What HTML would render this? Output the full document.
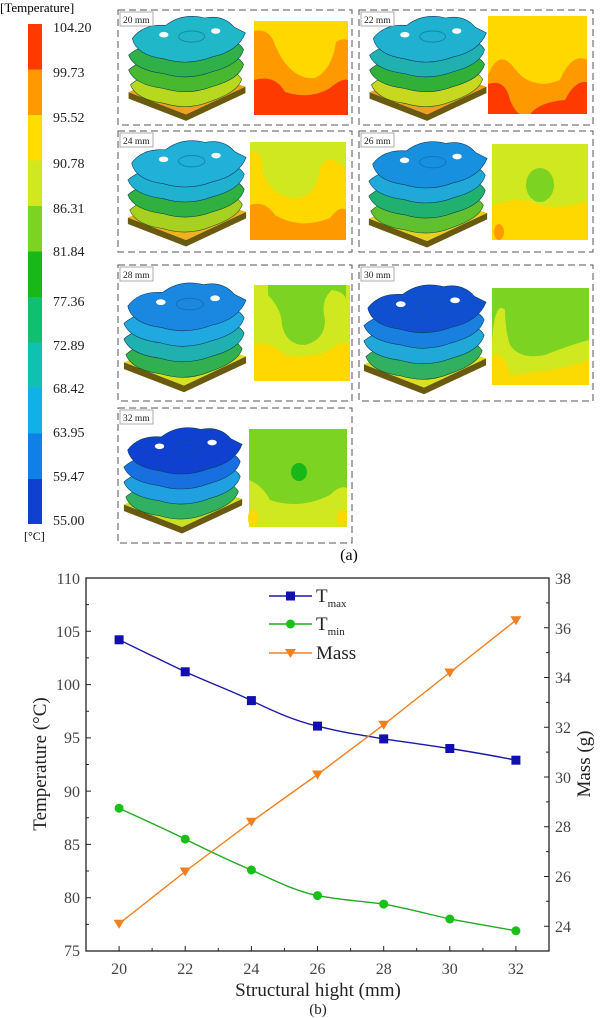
<!DOCTYPE html>
<html><head><meta charset="utf-8"><style>
html,body{margin:0;padding:0;background:#fff}
svg{display:block}
text{font-family:"Liberation Serif",serif}
</style></head><body>
<svg width="600" height="1018" viewBox="0 0 600 1018" xmlns="http://www.w3.org/2000/svg">
<defs>
<symbol id="obj" viewBox="0 0 130 110" overflow="visible">
  <path d="M2 80 L64 104 L128 74 L128 81 L64 111 L2 87 Z" fill="#6a5a10"/>
  <path d="M2 80 L64 104 L128 74 L66 54 Z" fill="var(--b)"/>
  <path d="M4 72 Q20 58 40 62 Q65 50 90 56 Q115 52 124 66 Q120 80 90 90 Q66 100 40 92 Q10 88 4 72Z" fill="var(--l4)" stroke="#1a4a20" stroke-width=".6"/>
  <path d="M2 56 Q18 42 40 46 Q64 34 92 40 Q118 36 126 50 Q122 66 92 74 Q66 84 40 76 Q8 72 2 56Z" fill="var(--l3)" stroke="#0a3a40" stroke-width=".6"/>
  <path d="M2 40 Q18 26 40 30 Q64 18 92 24 Q118 20 126 34 Q122 50 92 58 Q66 68 40 60 Q8 56 2 40Z" fill="var(--l2)" stroke="#0a3a60" stroke-width=".6"/>
  <path d="M6 22 Q18 6 42 8 Q60 -6 84 0 Q104 -4 116 10 L128 16 Q120 36 92 42 Q66 52 40 44 Q10 40 6 22Z" fill="var(--l1)" stroke="#0a3a60" stroke-width=".6"/>
  <ellipse cx="70" cy="20" rx="14" ry="6" fill="none" stroke="#0a5a90" stroke-width="1" opacity=".5"/>
  <ellipse cx="40" cy="18" rx="5" ry="3" fill="#fff"/>
  <ellipse cx="96" cy="14" rx="5" ry="3" fill="#fff"/>
</symbol>
</defs>

<!-- colorbar -->
<text x="0" y="12" font-size="13">[Temperature]</text>
<g>
<rect x="28" y="24" width="14" height="45.5" fill="#ff3a00"/>
<rect x="28" y="69.5" width="14" height="45.5" fill="#ff9900"/>
<rect x="28" y="115" width="14" height="45.5" fill="#ffdd00"/>
<rect x="28" y="160.5" width="14" height="45.5" fill="#d0e820"/>
<rect x="28" y="206" width="14" height="45.5" fill="#7dd321"/>
<rect x="28" y="251.5" width="14" height="45.5" fill="#18b818"/>
<rect x="28" y="297" width="14" height="45.5" fill="#10c070"/>
<rect x="28" y="342.5" width="14" height="45.5" fill="#10c0b0"/>
<rect x="28" y="388" width="14" height="45.5" fill="#10b0e8"/>
<rect x="28" y="433.5" width="14" height="45.5" fill="#1080e8"/>
<rect x="28" y="479" width="14" height="45" fill="#1040d0"/>
</g>
<g font-size="14" fill="#222">
<text x="53" y="32">104.20</text>
<text x="53" y="77">99.73</text>
<text x="53" y="122">95.52</text>
<text x="53" y="168">90.78</text>
<text x="53" y="213">86.31</text>
<text x="53" y="256">81.84</text>
<text x="53" y="306">77.36</text>
<text x="53" y="350">72.89</text>
<text x="53" y="393">68.42</text>
<text x="53" y="437">63.95</text>
<text x="53" y="481">59.47</text>
<text x="53" y="525">55.00</text>
</g>
<text x="24" y="540" font-size="12" font-family="Liberation Sans">[°C]</text>

<!-- panels -->
<g fill="none" stroke="#555" stroke-width="1" stroke-dasharray="7,4">
<rect x="118" y="10" width="234" height="115"/>
<rect x="359" y="10" width="234" height="115"/>
<rect x="118" y="131" width="234" height="121"/>
<rect x="359" y="131" width="234" height="121"/>
<rect x="118" y="265" width="234" height="136"/>
<rect x="359" y="265" width="234" height="136"/>
<rect x="118" y="408" width="234" height="135"/>
</g>

<use href="#obj" x="126" y="18" width="122" height="102" style="--l1:#20b8c8;--l2:#30b048;--l3:#48b830;--l4:#b8d820;--b:#f0a020"/>
<rect x="254" y="21" width="94" height="94" fill="#ffd800"/>
<path d="M254 31 Q270 28 275 45 Q290 80 315 78 Q332 70 336 42 Q342 38 348 40 L348 115 L254 115Z" fill="#ff9900"/>
<path d="M254 80 Q275 74 285 92 Q310 100 330 88 Q342 78 348 80 L348 115 L254 115Z" fill="#ff3a00"/>

<use href="#obj" x="367" y="18" width="122" height="102" style="--l1:#20b0d0;--l2:#20b0b0;--l3:#30b038;--l4:#c8d820;--b:#f0a020"/>
<rect x="488" y="16" width="99" height="98" fill="#ffd800"/>
<path d="M488 75 Q498 50 512 65 Q530 92 560 80 Q572 52 587 60 L587 114 L488 114Z" fill="#ff9900"/>
<path d="M488 84 Q505 78 510 100 Q515 112 520 114 L488 114Z M530 114 Q540 102 565 100 Q575 80 587 82 L587 114Z" fill="#ff3a00"/>

<use href="#obj" x="126" y="142" width="122" height="104" style="--l1:#20b0d8;--l2:#20b0d0;--l3:#30b040;--l4:#a8d020;--b:#f0b020"/>
<rect x="250" y="142" width="96" height="98" fill="#ffd800"/>
<path d="M250 142 L346 142 L346 170 Q330 150 320 168 Q316 200 290 198 Q262 190 262 160 Q258 150 250 152Z" fill="#d0e820"/>
<path d="M250 205 Q265 200 275 215 Q300 230 330 218 Q340 205 346 210 L346 240 L250 240Z" fill="#ff9900"/>

<use href="#obj" x="367" y="143" width="122" height="104" style="--l1:#1890e0;--l2:#20a8d8;--l3:#20b070;--l4:#60c030;--b:#e8d020"/>
<rect x="492" y="144" width="96" height="96" fill="#d0e820"/>
<ellipse cx="540" cy="185" rx="14" ry="17" fill="#7dd321"/>
<path d="M492 205 Q520 195 540 205 Q565 210 588 200 L588 240 L492 240Z" fill="#ffd800"/>
<ellipse cx="499" cy="232" rx="5" ry="8" fill="#ff9900"/>

<use href="#obj" x="122" y="282" width="126" height="112" style="--l1:#1a88e0;--l2:#20a8e0;--l3:#20b0b0;--l4:#30b050;--b:#d8e020"/>
<rect x="254" y="285" width="96" height="96" fill="#d0e820"/>
<path d="M268 295 Q282 310 282 325 Q286 345 305 345 Q325 340 325 320 Q320 300 332 290 Q345 292 346 300 L346 285 L268 285Z" fill="#7dd321"/>
<path d="M254 345 Q270 340 285 355 Q310 360 330 350 Q340 340 350 345 L350 381 L254 381Z" fill="#ffd800"/>

<use href="#obj" x="362" y="283" width="126" height="114" style="--l1:#1050d0;--l2:#1a80e0;--l3:#20a8d8;--l4:#30b060;--b:#d8e020"/>
<rect x="492" y="288" width="97" height="97" fill="#7dd321"/>
<path d="M492 340 Q495 300 505 310 Q505 330 510 345 Q520 360 545 355 Q570 345 589 340 L589 385 L492 385Z" fill="#d0e820"/>
<path d="M492 355 Q505 350 510 375 L535 372 Q560 370 589 360 L589 385 L492 385Z" fill="#ffd800" opacity=".9"/>

<use href="#obj" x="122" y="424" width="122" height="114" style="--l1:#1040d0;--l2:#1870e0;--l3:#20a0e0;--l4:#30b060;--b:#c8e020"/>
<rect x="249" y="429" width="98" height="98" fill="#7dd321"/>
<ellipse cx="299" cy="472" rx="8" ry="9" fill="#18b818"/>
<path d="M249 480 Q262 485 270 500 Q300 510 330 495 Q340 485 347 488 L347 527 L249 527Z" fill="#d0e820"/>
<ellipse cx="253" cy="518" rx="5" ry="9" fill="#ffd800"/>
<ellipse cx="342" cy="518" rx="5" ry="9" fill="#ffd800"/>

<g font-size="9.5" fill="#222">
<rect x="120" y="12" width="33" height="14" fill="#fff" stroke="#999" stroke-width=".8"/><text x="123" y="23">20 mm</text>
<rect x="361" y="12" width="33" height="14" fill="#fff" stroke="#999" stroke-width=".8"/><text x="364" y="23">22 mm</text>
<rect x="120" y="133" width="33" height="14" fill="#fff" stroke="#999" stroke-width=".8"/><text x="123" y="144">24 mm</text>
<rect x="361" y="133" width="33" height="14" fill="#fff" stroke="#999" stroke-width=".8"/><text x="364" y="144">26 mm</text>
<rect x="120" y="267" width="33" height="14" fill="#fff" stroke="#999" stroke-width=".8"/><text x="123" y="278">28 mm</text>
<rect x="361" y="267" width="33" height="14" fill="#fff" stroke="#999" stroke-width=".8"/><text x="364" y="278">30 mm</text>
<rect x="120" y="410" width="33" height="14" fill="#fff" stroke="#999" stroke-width=".8"/><text x="123" y="421">32 mm</text>
</g>
<text x="349" y="560" font-size="16" text-anchor="middle">(a)</text>

<!-- chart -->
<rect x="86" y="578" width="463" height="373" fill="none" stroke="#222" stroke-width="1.3"/>
<g stroke="#222" stroke-width="1">
<path d="M86 631.3h5M86 684.6h5M86 737.9h5M86 791.1h5M86 844.4h5M86 897.7h5"/>
<path d="M86 604.6h3M86 657.9h3M86 711.2h3M86 764.5h3M86 817.8h3M86 871.0h3M86 924.4h3"/>
<path d="M549 926.2h-5M549 876.5h-5M549 826.7h-5M549 777.0h-5M549 727.3h-5M549 677.5h-5M549 627.7h-5"/>
<path d="M549 901.3h-3M549 851.6h-3M549 801.9h-3M549 752.1h-3M549 702.4h-3M549 652.6h-3M549 602.9h-3"/>
<path d="M119.1 951v-5M185.2 951v-5M251.4 951v-5M317.5 951v-5M383.7 951v-5M449.8 951v-5M515.9 951v-5"/>
<path d="M152.1 951v-3M218.3 951v-3M284.4 951v-3M350.6 951v-3M416.7 951v-3M482.9 951v-3"/>
</g>
<g font-size="16" fill="#444" text-anchor="end">
<text x="80" y="584">110</text><text x="80" y="637">105</text><text x="80" y="690">100</text>
<text x="80" y="743">95</text><text x="80" y="797">90</text><text x="80" y="850">85</text>
<text x="80" y="903">80</text><text x="80" y="956">75</text>
</g>
<g font-size="16" fill="#444">
<text x="555" y="584">38</text><text x="555" y="634">36</text><text x="555" y="683">34</text>
<text x="555" y="733">32</text><text x="555" y="783">30</text><text x="555" y="832">28</text>
<text x="555" y="882">26</text><text x="555" y="932">24</text>
</g>
<g font-size="16" fill="#444" text-anchor="middle">
<text x="119.1" y="974">20</text><text x="185.2" y="974">22</text><text x="251.4" y="974">24</text>
<text x="317.5" y="974">26</text><text x="383.7" y="974">28</text><text x="449.8" y="974">30</text>
<text x="515.9" y="974">32</text>
</g>
<text x="318" y="996" font-size="19" text-anchor="middle" fill="#222">Structural hight (mm)</text>
<text x="318" y="1014" font-size="15" text-anchor="middle" fill="#222">(b)</text>
<text transform="translate(46 764) rotate(-90)" font-size="19" text-anchor="middle" fill="#222">Temperature (°C)</text>
<text transform="translate(590 764) rotate(-90)" font-size="19" text-anchor="middle" fill="#222">Mass (g)</text>

<path d="M119.1 639.8 C140 650 165 662 185.2 671.8 C207 682 230 690 251.4 700.6 C273 711 295 721 317.5 726.1 C340 732 360 735 383.7 738.9 C405 742 428 745 449.8 748.5 C472 752 495 756 515.9 760.2" fill="none" stroke="#1a1aa8" stroke-width="1.4"/>
<g fill="#1010b0">
<rect x="114.6" y="635.3" width="9" height="9"/><rect x="180.7" y="667.3" width="9" height="9"/>
<rect x="246.9" y="696.1" width="9" height="9"/><rect x="313" y="721.6" width="9" height="9"/>
<rect x="379.2" y="734.4" width="9" height="9"/><rect x="445.3" y="744" width="9" height="9"/>
<rect x="511.4" y="755.7" width="9" height="9"/>
</g>
<path d="M119.1 808.2 C140 818 165 829 185.2 839.1 C207 850 230 861 251.4 870 C273 880 295 891 317.5 895.6 C340 900 360 901 383.7 904.1 C405 908 428 914 449.8 919 C472 923 495 927 515.9 930.8" fill="none" stroke="#22aa22" stroke-width="1.4"/>
<g fill="#18c018">
<circle cx="119.1" cy="808.2" r="4.5"/><circle cx="185.2" cy="839.1" r="4.5"/><circle cx="251.4" cy="870" r="4.5"/>
<circle cx="317.5" cy="895.6" r="4.5"/><circle cx="383.7" cy="904.1" r="4.5"/><circle cx="449.8" cy="919" r="4.5"/>
<circle cx="515.9" cy="930.8" r="4.5"/>
</g>
<path d="M119.1 923.7 L185.2 871.5 L251.4 821.7 L317.5 774.5 L383.7 724.7 L449.8 672.5 L515.9 620.3" fill="none" stroke="#f08020" stroke-width="1.4"/>
<g fill="#f08020">
<path d="M113.6 919.7h11l-5.5 9z"/><path d="M179.7 867.5h11l-5.5 9z"/><path d="M245.9 817.7h11l-5.5 9z"/>
<path d="M312 770.5h11l-5.5 9z"/><path d="M378.2 720.7h11l-5.5 9z"/><path d="M444.3 668.5h11l-5.5 9z"/>
<path d="M510.4 616.3h11l-5.5 9z"/>
</g>

<path d="M269 596h43" stroke="#1a1aa8" stroke-width="1.4"/><rect x="286" y="591.5" width="9" height="9" fill="#1010b0"/>
<text x="316" y="602" font-size="19" fill="#222">T<tspan font-size="11" dy="5">max</tspan></text>
<path d="M269 624h43" stroke="#22aa22" stroke-width="1.4"/><circle cx="290.5" cy="624" r="4.5" fill="#18c018"/>
<text x="316" y="630" font-size="19" fill="#222">T<tspan font-size="11" dy="5">min</tspan></text>
<path d="M269 653h43" stroke="#f08020" stroke-width="1.4"/><path d="M285 649h11l-5.5 9z" fill="#f08020"/>
<text x="316" y="659" font-size="19" fill="#222">Mass</text>
</svg>
</body></html>
